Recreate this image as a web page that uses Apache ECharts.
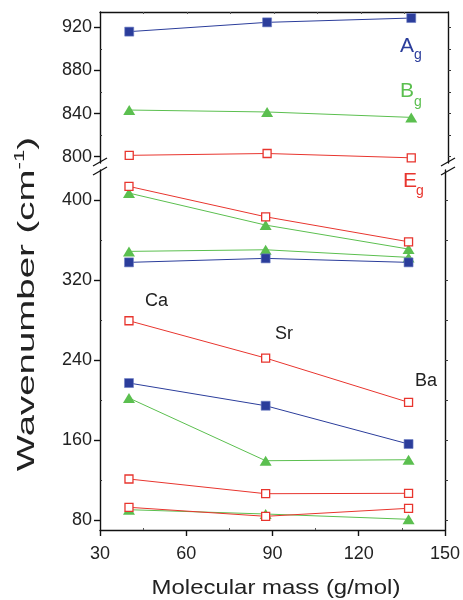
<!DOCTYPE html>
<html><head><meta charset="utf-8">
<script src="https://cdn.jsdelivr.net/npm/echarts@6/dist/echarts.min.js"></script>
<style>html,body{margin:0;padding:0;background:#fff}#c{width:463px;height:600px}</style>
</head><body><div id="c"></div>
<script>
// Molecular mass of Ca, Sr, Ba compounds (x positions)
const mass = [40.08, 87.62, 137.33];

// Upper panel (high-frequency modes)
const Ag_high = [916, 924.6, 928.6];
const Bg_high = [843.3, 841.5, 836.5];
const Eg_high = [801.3, 803, 799];

// Lower panel
const Eg_1 = [413.7, 383.3, 358.3];
const Bg_1 = [407, 375, 351];
const Bg_2 = [348.7, 350.3, 342.7];
const Ag_1 = [337.7, 341.7, 337.7];
const Eg_2 = [279.3, 242, 197.7];
const Ag_2 = [217, 194.3, 156];
const Bg_3 = [202, 139.3, 140.3];
const Eg_3 = [121, 106.3, 106.7];
const Eg_4 = [92.7, 83.7, 91.7];
const Bg_4 = [90.3, 86, 80.7];

// Tick labels
const xTicks = [30, 60, 90, 120, 150];
const xMinor = [45, 75, 105, 135];
const xTopTicks = [45, 60, 75, 90, 105, 120, 135];
const yTopTicks = [800, 840, 880, 920];
const yTopMinor = [820, 860, 900];
const yTopRight = [800, 820, 840, 860, 880, 900, 920];
const yBotTicks = [80, 160, 240, 320, 400];
const yBotMinor = [120, 200, 280, 360];
const yBotRight = [80, 120, 160, 200, 240, 280, 320, 360, 400];

const BLUE = '#2b3d9b', GREEN = '#5bbf4f', RED = '#e8352e';
const FONT = 'Liberation Sans';
const AX = {color: '#111', width: 1.4};

const pts = arr => arr.map((v, i) => [mass[i], v]);

function mk(data, kind, top) {
  const s = {
    type: 'line', data: pts(data),
    xAxisIndex: top ? 0 : 1, yAxisIndex: top ? 0 : 3,
    lineStyle: {width: 1},
    emphasis: {disabled: true}, silent: true
  };
  if (kind === 'A') {
    s.symbol = 'rect'; s.symbolSize = 9;
    s.itemStyle = {color: BLUE, borderColor: '#6f7fc4', borderWidth: 0.6};
    s.lineStyle.color = BLUE; s.z = 3;
  } else if (kind === 'B') {
    s.symbol = 'triangle'; s.symbolSize = [12, 10];
    s.itemStyle = {color: GREEN};
    s.lineStyle.color = GREEN; s.z = 2;
  } else {
    s.symbol = 'rect'; s.symbolSize = 8;
    s.itemStyle = {color: '#fff', borderColor: RED, borderWidth: 1.3};
    s.lineStyle.color = RED; s.z = 4;
  }
  return s;
}

const yBase = {
  type: 'value', splitLine: {show: false}, axisPointer: {show: false}
};
const LBL = {fontSize: 18, color: '#222', fontFamily: FONT};

const option = {
  animation: false,
  grid: [
    {left: 100, right: 15, top: 12, height: 151},
    {left: 100, right: 15, top: 170, height: 360}
  ],
  xAxis: [
    {gridIndex: 0, type: 'value', position: 'top', min: 30, max: 150,
     axisLine: {show: true, lineStyle: AX},
     axisTick: {show: true, inside: true, length: 2, customValues: xTopTicks, lineStyle: {color: '#555', width: 1}},
     axisLabel: {show: false}, splitLine: {show: false}},
    {gridIndex: 1, type: 'value', position: 'bottom', min: 30, max: 150,
     axisLine: {show: true, lineStyle: AX},
     axisTick: {show: true, inside: false, length: 6, customValues: xTicks, lineStyle: AX},
     axisLabel: Object.assign({show: true, customValues: xTicks, margin: 15}, LBL),
     splitLine: {show: false}},
    {gridIndex: 1, type: 'value', position: 'bottom', min: 30, max: 150,
     axisLine: {show: false},
     axisTick: {show: true, inside: true, length: 2, customValues: xMinor, lineStyle: {color: '#555', width: 1}},
     axisLabel: {show: false}, splitLine: {show: false}}
  ],
  yAxis: [
    Object.assign({}, yBase, {gridIndex: 0, position: 'left', min: 794.2, max: 934.2,
     axisLine: {show: true, lineStyle: AX},
     axisTick: {show: true, inside: false, length: 6, customValues: yTopTicks, lineStyle: AX},
     axisLabel: Object.assign({show: true, customValues: yTopTicks, margin: 8}, LBL)}),
    Object.assign({}, yBase, {gridIndex: 0, position: 'left', min: 794.2, max: 934.2,
     axisLine: {show: false},
     axisTick: {show: true, inside: true, length: 2, customValues: yTopMinor, lineStyle: {color: '#333', width: 1}},
     axisLabel: {show: false}}),
    Object.assign({}, yBase, {gridIndex: 0, position: 'right', min: 794.2, max: 934.2,
     axisLine: {show: true, lineStyle: AX},
     axisTick: {show: true, inside: false, length: 3, customValues: yTopRight, lineStyle: {color: '#333', width: 1}},
     axisLabel: {show: false}}),
    Object.assign({}, yBase, {gridIndex: 1, position: 'left', min: 70, max: 430.1,
     axisLine: {show: true, lineStyle: AX},
     axisTick: {show: true, inside: false, length: 6, customValues: yBotTicks, lineStyle: AX},
     axisLabel: Object.assign({show: true, customValues: yBotTicks, margin: 8}, LBL)}),
    Object.assign({}, yBase, {gridIndex: 1, position: 'left', min: 70, max: 430.1,
     axisLine: {show: false},
     axisTick: {show: true, inside: true, length: 2, customValues: yBotMinor, lineStyle: {color: '#333', width: 1}},
     axisLabel: {show: false}}),
    Object.assign({}, yBase, {gridIndex: 1, position: 'right', min: 70, max: 430.1,
     axisLine: {show: true, lineStyle: AX},
     axisTick: {show: true, inside: false, length: 3, customValues: yBotRight, lineStyle: {color: '#333', width: 1}},
     axisLabel: {show: false}})
  ],
  series: [
    mk(Bg_high, 'B', true), mk(Ag_high, 'A', true), mk(Eg_high, 'E', true),
    mk(Bg_1, 'B'), mk(Bg_2, 'B'), mk(Bg_3, 'B'), mk(Bg_4, 'B'),
    mk(Ag_1, 'A'), mk(Ag_2, 'A'),
    mk(Eg_1, 'E'), mk(Eg_2, 'E'), mk(Eg_3, 'E'), mk(Eg_4, 'E')
  ],
  graphic: [
    // axis break marks
    {type: 'line', shape: {x1: 93, y1: 166, x2: 107, y2: 158}, style: {stroke: '#111', lineWidth: 1.3}},
    {type: 'line', shape: {x1: 93, y1: 175, x2: 107, y2: 167}, style: {stroke: '#111', lineWidth: 1.3}},
    {type: 'line', shape: {x1: 441, y1: 166, x2: 455, y2: 158}, style: {stroke: '#111', lineWidth: 1.3}},
    {type: 'line', shape: {x1: 441, y1: 175, x2: 455, y2: 167}, style: {stroke: '#111', lineWidth: 1.3}},
    // mode labels
    {type: 'text', x: 400, y: 46, style: {text: 'A', fill: BLUE, font: '21px "Liberation Sans"', align: 'left', verticalAlign: 'middle'}},
    {type: 'text', x: 414, y: 55, style: {text: 'g', fill: BLUE, font: '14px "Liberation Sans"', align: 'left', verticalAlign: 'middle'}},
    {type: 'text', x: 400, y: 91, style: {text: 'B', fill: GREEN, font: '21px "Liberation Sans"', align: 'left', verticalAlign: 'middle'}},
    {type: 'text', x: 414, y: 102, style: {text: 'g', fill: GREEN, font: '14px "Liberation Sans"', align: 'left', verticalAlign: 'middle'}},
    {type: 'text', x: 403, y: 181, style: {text: 'E', fill: RED, font: '21px "Liberation Sans"', align: 'left', verticalAlign: 'middle'}},
    {type: 'text', x: 416, y: 191, style: {text: 'g', fill: RED, font: '14px "Liberation Sans"', align: 'left', verticalAlign: 'middle'}},
    // cation labels
    {type: 'text', x: 145, y: 301, style: {text: 'Ca', fill: '#222', font: '18px "Liberation Sans"', align: 'left', verticalAlign: 'middle'}},
    {type: 'text', x: 275, y: 334, style: {text: 'Sr', fill: '#222', font: '18px "Liberation Sans"', align: 'left', verticalAlign: 'middle'}},
    {type: 'text', x: 415, y: 381, style: {text: 'Ba', fill: '#222', font: '18px "Liberation Sans"', align: 'left', verticalAlign: 'middle'}},
    // axis titles
    {type: 'text', x: 276, y: 588, scaleX: 1.14, originX: 0, originY: 0,
     style: {text: 'Molecular mass (g/mol)', fill: '#222', font: '21px "Liberation Sans"', align: 'center', verticalAlign: 'middle'}},
    {type: 'text', x: 27, y: 304, rotation: Math.PI / 2, scaleX: 1.6,
     style: {text: '{a|Wavenumber (cm}{s|-1}{a|)}', fill: '#222', align: 'center', verticalAlign: 'middle',
       rich: {
         a: {fontSize: 24, fontFamily: FONT, fill: '#222', lineHeight: 28},
         s: {fontSize: 14, fontFamily: FONT, fill: '#222', lineHeight: 28, verticalAlign: 'top'}
       }}}
  ]
};

const chart = echarts.init(document.getElementById('c'), null, {renderer: 'canvas'});
chart.setOption(option);
</script>
</body></html>
